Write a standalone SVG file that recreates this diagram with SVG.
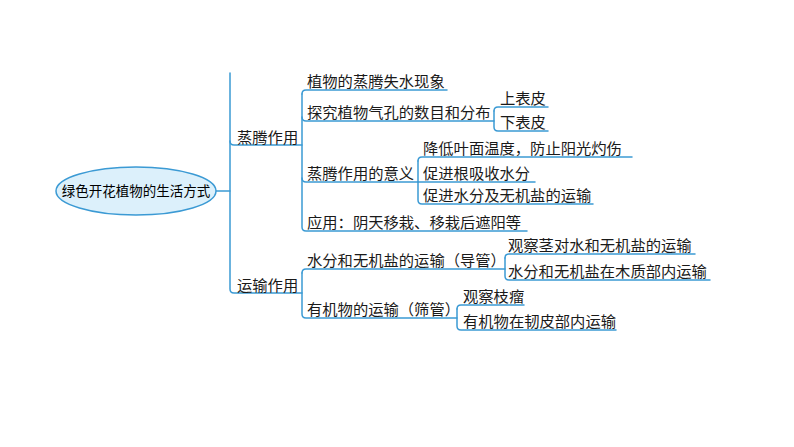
<svg xmlns="http://www.w3.org/2000/svg" width="794" height="447" viewBox="0 0 794 447">
<style>
.ln{fill:none;stroke:#3b9ad4;stroke-width:1.5;stroke-linecap:round}
.t{font-family:"Noto Sans CJK SC","Noto Sans",sans-serif;font-size:15.3px;fill:#1a1a1a}
.rt{font-family:"Noto Sans CJK SC","Noto Sans",sans-serif;font-size:13.5px;fill:#000}
</style>
<rect width="794" height="447" fill="#fff"/>
<g id="connectors">
<!-- root to level1 -->
<path class="ln" d="M216,191 H230"/>
<path class="ln" d="M230,73 V289 Q230,293 234,293 H302"/>
<path class="ln" d="M230,141 Q230,145 234,145 H302"/>
<!-- 蒸腾作用 children -->
<path class="ln" d="M302,94 Q302,90 306,90 H447"/>
<path class="ln" d="M302,94 V227 Q302,231 306,231 H527"/>
<path class="ln" d="M302,117 Q302,121 306,121 H494"/>
<path class="ln" d="M302,178 Q302,182 306,182 H418"/>
<!-- 探究 children -->
<path class="ln" d="M494,111 Q494,107 498,107 H548"/>
<path class="ln" d="M494,111 V127 Q494,131 498,131 H548"/>
<!-- 意义 children -->
<path class="ln" d="M418,161 Q418,157 422,157 H632"/>
<path class="ln" d="M418,161 V200 Q418,204 422,204 H593"/>
<path class="ln" d="M418,182 H535"/>
<!-- 运输作用 children -->
<path class="ln" d="M302,273 Q302,269 306,269 H505"/>
<path class="ln" d="M302,273 V314 Q302,318 306,318 H457"/>
<!-- 导管 children -->
<path class="ln" d="M505,258 Q505,254 509,254 H695"/>
<path class="ln" d="M505,258 V276 Q505,280 509,280 H710"/>
<!-- 筛管 children -->
<path class="ln" d="M457,309 Q457,305 461,305 H524"/>
<path class="ln" d="M457,309 V326 Q457,330 461,330 H616"/>
</g>
<g id="root">
<ellipse cx="136" cy="191" rx="80" ry="24" fill="#dcf0fb" stroke="#3b9ad4" stroke-width="1.5"/>
<text class="rt" x="136" y="196" text-anchor="middle">绿色开花植物的生活方式</text>
</g>
<g id="n-zhengteng"><text class="t" x="237" y="143">蒸腾作用</text></g>
<g id="n-yunshu"><text class="t" x="237" y="291">运输作用</text></g>
<g id="n-shishui"><text class="t" x="307" y="87">植物的蒸腾失水现象</text></g>
<g id="n-qikong"><text class="t" x="307" y="118">探究植物气孔的数目和分布</text></g>
<g id="n-shang"><text class="t" x="500" y="104">上表皮</text></g>
<g id="n-xia"><text class="t" x="500" y="128">下表皮</text></g>
<g id="n-yiyi"><text class="t" x="307" y="179">蒸腾作用的意义</text></g>
<g id="n-jiangdi"><text class="t" x="423" y="154">降低叶面温度，防止阳光灼伤</text></g>
<g id="n-cujin1"><text class="t" x="423" y="179">促进根吸收水分</text></g>
<g id="n-cujin2"><text class="t" x="423" y="201">促进水分及无机盐的运输</text></g>
<g id="n-yingyong"><text class="t" x="307" y="228">应用：阴天移栽、移栽后遮阳等</text></g>
<g id="n-daoguan"><text class="t" x="307" y="266">水分和无机盐的运输（导管）</text></g>
<g id="n-guancha1"><text class="t" x="508" y="251">观察茎对水和无机盐的运输</text></g>
<g id="n-muzhi"><text class="t" x="508" y="277">水分和无机盐在木质部内运输</text></g>
<g id="n-shaiguan"><text class="t" x="307" y="315">有机物的运输（筛管）</text></g>
<g id="n-zhiliu"><text class="t" x="463" y="302">观察枝瘤</text></g>
<g id="n-renpi"><text class="t" x="463" y="327">有机物在韧皮部内运输</text></g>
</svg>
